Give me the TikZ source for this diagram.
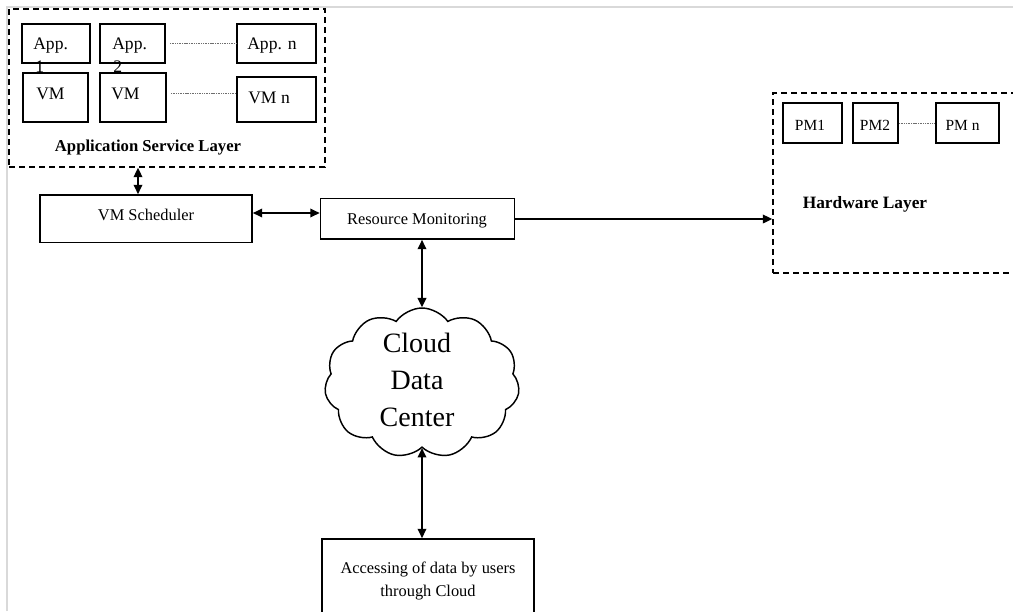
\documentclass[tikz,border=0pt]{standalone}
\usepackage{fontspec}
\setmainfont{Liberation Serif}
\usetikzlibrary{arrows.meta,shapes.symbols}
\definecolor{pageedge}{RGB}{217,217,217}
\definecolor{dotline}{RGB}{110,110,110}

\begin{document}
\begin{tikzpicture}[x=0.75pt,y=-0.75pt,
  box/.style={draw,line width=1.3pt,inner sep=0pt},
  dbox/.style={draw,line width=1.2pt,dash pattern=on 4.5pt off 3pt,inner sep=0pt},
  sz/.style 2 args={minimum width=#1*0.75pt,minimum height=#2*0.75pt},
  txt/.style={inner sep=0pt,font=\fontsize{12.3}{14}\selectfont},
  apptxt/.style={inner sep=0pt,font=\fontsize{13.2}{15}\selectfont},
  pmtxt/.style={inner sep=0pt,font=\fontsize{11.6}{13}\selectfont},
  layertxt/.style={inner sep=0pt,font=\fontsize{#1}{15}\selectfont\bfseries},
  cloudtxt/.style={inner sep=0pt,align=center,font=\fontsize{21}{27.75}\selectfont},
  link/.style={line width=1.1pt,{Triangle[length=7pt,width=6.5pt]}-{Triangle[length=7pt,width=6.5pt]}},
  oneway/.style={line width=1.1pt,-{Triangle[length=7pt,width=6.5pt]}},
  dots/.style={line width=0.7pt,dotline,dash pattern=on 0.8pt off 0.5pt}]

\path[use as bounding box] (0,0) rectangle (1013,611);
\clip (0,0) rectangle (1013,611);

% page edge
\draw[line width=1.5pt,pageedge] (7,611) -- (7,7) -- (1013,7);

% ---------- application service layer ----------
\node[dbox,sz={316}{158}] (asl) at (167,88) {};
\node[box,sz={68}{39}] (a1) at (56,43.5) {};
\node[box,sz={65}{39}] (a2) at (132.5,43.5) {};
\node[box,sz={79}{39}] (an) at (276.5,43.5) {};
\node[box,sz={65}{49}] (v1) at (55.5,97.5) {};
\node[box,sz={66}{49}] (v2) at (133,97.5) {};
\node[box,sz={79}{45}] (vn) at (276.5,99.5) {};

\node[apptxt,anchor=base west] (a1t) at (33,49) {App.};
\node[apptxt,anchor=base west] (a1n) at (35,72) {1};
\node[apptxt,anchor=base west] (a2t) at (112,49) {App.};
\node[apptxt,anchor=base west] (a2n) at (113,72) {2};
\node[apptxt,anchor=base west] (ant) at (247,49) {App. n};
\node[apptxt,anchor=base west] (v1t) at (36,99) {VM};
\node[apptxt,anchor=base west] (v2t) at (111,99) {VM};
\node[apptxt,anchor=base west] (vnt) at (248,103) {VM n};
\node[layertxt=12.5,anchor=base] (aslt) at (148,151) {Application Service Layer};

\draw[dots,shorten <=3pt] (a2.east) -- (an.west);
\coordinate (vy) at (0,93);
\draw[dots,shorten <=3pt] (v2.east |- vy) -- (vn.west |- vy);

% ---------- scheduler and monitoring ----------
\node[box,sz={212}{47.5}] (sched) at (146,218.75) {};
\node[txt,anchor=base] (schedt) at (146,220) {VM Scheduler};
\node[box,sz={194}{40.4}] (rm) at (417.5,218.8) {};
\node[txt,anchor=base] (rmt) at (417,224) {Resource Monitoring};

% ---------- hardware layer ----------
\node[dbox,sz={257}{180}] (hw) at (901.5,183) {};
\node[box,sz={59}{40}] (pm1) at (812.5,123) {};
\node[box,sz={45}{40}] (pm2) at (875.5,123) {};
\node[box,sz={63}{40}] (pmn) at (967.5,123) {};
\node[pmtxt,anchor=base] (pm1t) at (810,130) {PM1};
\node[pmtxt,anchor=base] (pm2t) at (875,130) {PM2};
\node[pmtxt,anchor=base] (pmnt) at (962.5,130) {PM n};
\draw[dots] (pm2.east) -- (pmn.west);
\node[layertxt=13,anchor=base] (hwt) at (865,208) {Hardware Layer};

% ---------- cloud data center ----------
\node[cloud,draw,line width=1.1pt,cloud puffs=11,cloud puff arc=110,cloud ignores aspect,
      sz={195}{150},inner sep=0pt] (cloud) at (422,383) {};
\node[cloudtxt] (cloudt) at (417,380) {Cloud\\Data\\Center};

% ---------- user access ----------
\node[box,sz={212}{101}] (acc) at (428,589.5) {};
\node[txt,anchor=base] (acc1) at (428,573) {Accessing of data by users};
\node[txt,anchor=base] (acc2) at (428,596) {through Cloud};

% ---------- connectors ----------
\coordinate (ax) at (138,0);
\draw[link] (asl.south -| ax) -- (sched.north -| ax);
\coordinate (ay) at (0,213);
\draw[link] (sched.east |- ay) -- (rm.west |- ay);
\coordinate (hy) at (0,219);
\draw[oneway] (rm.east |- hy) -- (hw.west |- hy);
\draw[link] (rm.south -| cloud.north) -- (cloud.north);
\draw[link] (cloud.south) -- (acc.north -| cloud.south);
\end{tikzpicture}
\end{document}
